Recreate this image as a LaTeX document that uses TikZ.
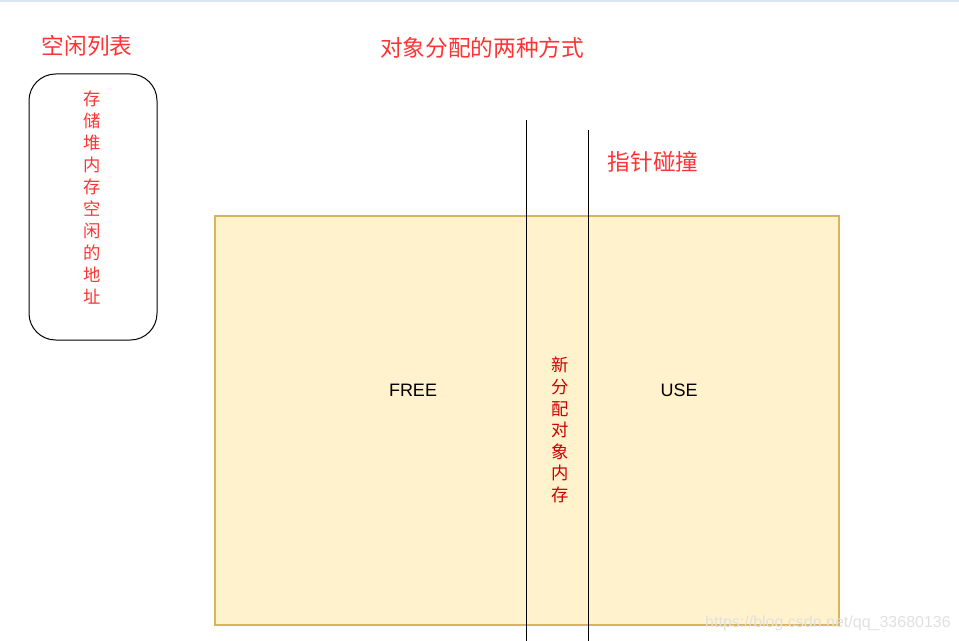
\documentclass[tikz,border=0pt]{standalone}
\usepackage{fontspec}
\setmainfont{Liberation Sans}
\newfontfamily\cjk{Noto Sans CJK SC}
\usepackage{xcolor}
\usetikzlibrary{positioning}

\definecolor{titlered}{HTML}{FF3333}
\definecolor{textred}{HTML}{CC0000}
\definecolor{heapfill}{HTML}{FFF2CC}
\definecolor{heapdraw}{HTML}{D6B656}
\definecolor{topline}{HTML}{DAE6F3}

\begin{document}
\begin{tikzpicture}[
    x=0.75pt, y=-0.75pt,
    title/.style={text=titlered, font=\cjk\fontsize{17}{20}\selectfont, inner sep=0pt},
    vtext/.style={font=\cjk\fontsize{13}{16.5}\selectfont, align=center, inner sep=0pt},
    label/.style={font=\fontsize{13.5}{16}\selectfont, inner sep=0pt},
    wall/.style={draw=black, line width=0.75pt}
]
    \useasboundingbox (0,0) rectangle (959,641);
    \draw[topline, line width=1.2pt] (0,0.8) -- (959,0.8);

    \node[title] (freelist) at (87,46) {空闲列表};
    \node[title] (heading) at (482,48) {对象分配的两种方式};
    \node[title] (bump) at (653,162) {指针碰撞};

    % free list box
    \draw[black, line width=0.75pt, rounded corners=20] (29,74) rectangle (157,340);
    \node[vtext, text=titlered] (addr) at (92,198) {存\\储\\堆\\内\\存\\空\\闲\\的\\地\\址};

    % heap
    \draw[heapdraw, fill=heapfill, line width=1pt] (215,216) rectangle (839,625);
    \coordinate (w1top) at (526,120);
    \coordinate (w1bot) at (526,641);
    \coordinate (w2top) at (588,130);
    \coordinate (w2bot) at (588,641);
    \draw[wall] (w1top) -- (w1bot);
    \draw[wall] (w2top) -- (w2bot);

    \node[label] (free) at (413,390) {FREE};
    \node[label] (use) at (679,390) {USE};
    \node[vtext, text=textred, font=\cjk\fontsize{13}{16.2}\selectfont] (newobj) at (560,430) {新\\分\\配\\对\\象\\内\\存};

    \node[text=black!12, font=\fontsize{12}{14}\selectfont, inner sep=0pt] (mark) at (828,623) {https://blog.csdn.net/qq\_33680136};
\end{tikzpicture}
\end{document}
